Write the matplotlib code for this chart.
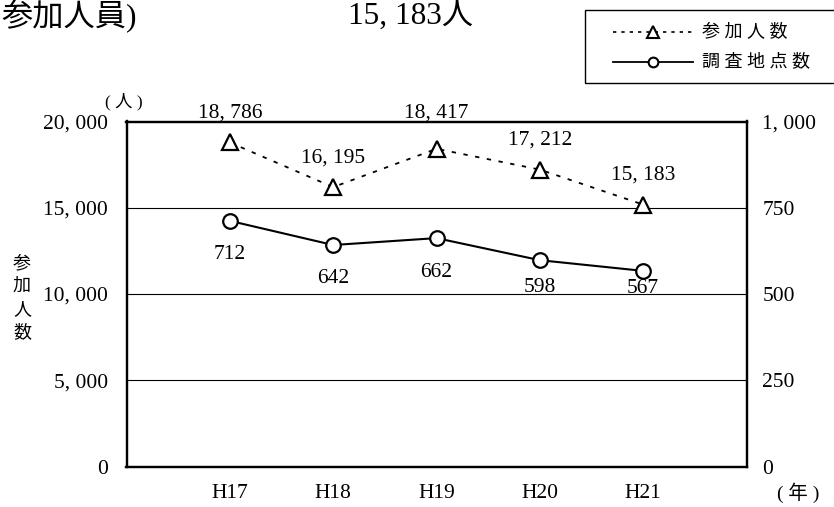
import matplotlib
matplotlib.use('Agg')
import matplotlib.pyplot as plt
from matplotlib.lines import Line2D
from matplotlib.patches import Rectangle

# ---- data ----
years = ['H17', 'H18', 'H19', 'H20', 'H21']
participants = [18786, 16195, 18417, 17212, 15183]
sites = [712, 642, 662, 598, 567]
left_ticks = [0, 5000, 10000, 15000, 20000]
right_ticks = [0, 250, 500, 750, 1000]
legend_labels = ['参 加 人 数', '調 査 地 点 数']

# label offsets (points) for data labels (style only)
part_label_offsets = [21, 21, 26, 21.5, 21.5]
site_label_offsets = [-24.5, -24, -24.5, -19.5, -13]

plt.rcParams['font.family'] = ['Liberation Serif', 'Noto Sans CJK JP']

W, H = 834, 507
fig = plt.figure(figsize=(W / 100, H / 100), dpi=100)


def fx(p):
    return p / W


def fy(p):
    return 1 - p / H


def fmt(v):
    return f'{v:,}'.replace(',', ', ')


ax = fig.add_axes([fx(126.5), fy(466.5), (746.5 - 126.5) / W, (466.5 - 121.5) / H])
ax2 = ax.twinx()
xs = list(range(len(years)))
ax.set_xlim(-1, len(years))
ax.set_ylim(0, 20000)
ax2.set_ylim(0, 1000)
ax.set_yticks(left_ticks)
ax.set_yticklabels([fmt(v) for v in left_ticks])
ax2.set_yticks(right_ticks)
ax2.set_yticklabels([fmt(v) for v in right_ticks])
ax.set_xticks(xs)
ax.set_xticklabels(years)
ax.grid(axis='y', color='black', lw=0.8)
ax.grid(axis='x', visible=False)
ax.set_axisbelow(True)
for a in (ax, ax2):
    for s in a.spines.values():
        s.set_linewidth(1.6)
FS = 15.5
ax.tick_params(axis='y', length=0, labelsize=FS, pad=13.5)
ax.tick_params(axis='x', length=0, labelsize=FS, pad=12.5)
ax2.tick_params(axis='y', length=0, labelsize=FS, pad=11.5)

ax.plot(xs, participants, color='black', lw=1.3, linestyle=(0, (2.4, 4.2)),
        marker='^', ms=12, mfc='white', mec='black', mew=1.6, zorder=3)
ax2.plot(xs, sites, color='black', lw=1.5, linestyle='-',
         marker='o', ms=10.5, mfc='white', mec='black', mew=1.6, zorder=3)

for i, v in enumerate(participants):
    ax.annotate(fmt(v), (i, v), xytext=(0, part_label_offsets[i]), textcoords='offset points',
                ha='center', va='center', fontsize=FS, annotation_clip=False)
for i, v in enumerate(sites):
    ax2.annotate(fmt(v), (i, v), xytext=(0, site_label_offsets[i]), textcoords='offset points',
                 ha='center', va='center', fontsize=FS)

# titles / units
fig.text(fx(1), fy(17), '参加人員)', ha='left', va='center', fontsize=22.5)
fig.text(fx(348), fy(16), fmt(participants[-1]) + '人', ha='left', va='center', fontsize=22.5)
fig.text(fx(22), fy(298), '参\n加\n人\n数', ha='center', va='center', fontsize=13, linespacing=1.45)
fig.text(fx(124), fy(102), '( 人 )', ha='center', va='center', fontsize=12.5)
fig.text(fx(798), fy(493), '( 年 )', ha='center', va='center', fontsize=14)

# legend box (manual)
fig.add_artist(Rectangle((fx(585), fy(83)), (845 - 585) / W, (83 - 10) / H,
                         transform=fig.transFigure, fill=False, ec='black', lw=1.0))
fig.add_artist(Line2D([fx(613), fx(653), fx(693)], [fy(32)] * 3, transform=fig.transFigure,
                      color='black', lw=1.2, linestyle=(0, (2, 3)), marker='^', markevery=[1],
                      ms=8.5, mfc='white', mec='black', mew=1.5))
fig.add_artist(Line2D([fx(613), fx(653), fx(693)], [fy(62)] * 3, transform=fig.transFigure,
                      color='black', lw=1.3, linestyle='-', marker='o', markevery=[1],
                      ms=7, mfc='white', mec='black', mew=1.5))
fig.text(fx(702), fy(32), legend_labels[0], ha='left', va='center', fontsize=13)
fig.text(fx(702), fy(62), legend_labels[1], ha='left', va='center', fontsize=13)

fig.savefig('out.png', dpi=100)
